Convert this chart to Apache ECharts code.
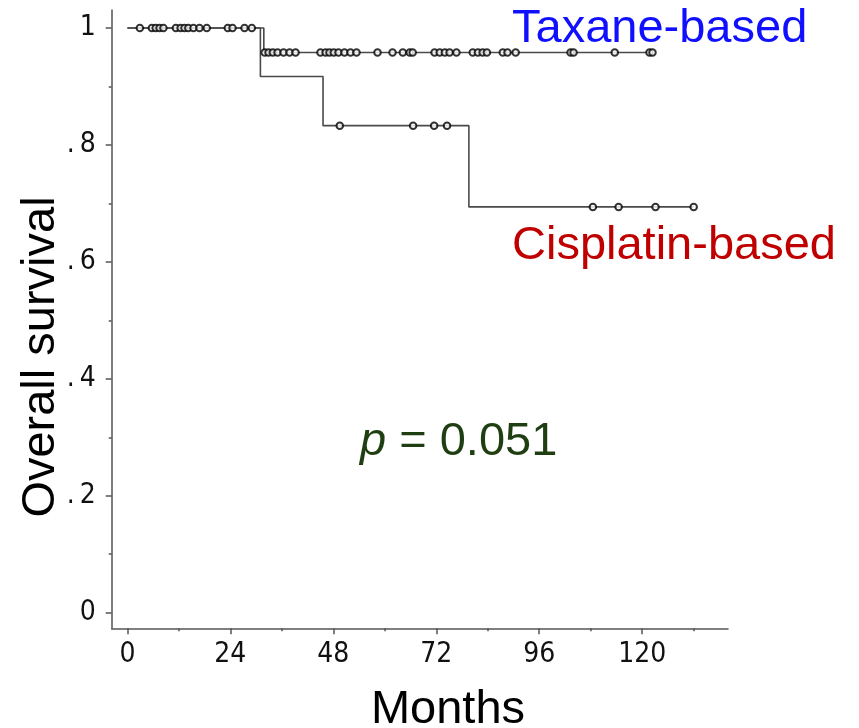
<!DOCTYPE html>
<html>
<head>
<meta charset="utf-8">
<title>Overall survival by regimen</title>
<script src="https://cdn.jsdelivr.net/npm/echarts@6/dist/echarts.min.js"></script>
<style>
  html, body { margin: 0; padding: 0; background: #fff; }
  #chart { width: 859px; height: 728px; }
</style>
</head>
<body>
<div id="chart"></div>
<script>
// Axis ticks
const xTickLabels = [0, 24, 48, 72, 96, 120];
const xMinorTicks = [12, 36, 60, 84, 108, 132];
const yTickLabels = [0, 0.2, 0.4, 0.6, 0.8, 1];
const yMinorTicks = [0.1, 0.3, 0.5, 0.7, 0.9];

// Taxane-based regimen: event times (months) and Kaplan-Meier survival after each event
const taxaneEventMonths = [0, 31.8];
const taxaneSurvival = [1, 0.958];
const taxaneCensoredMonths = [
  2.9, 5.7, 6.6, 7.5, 8.4, 11.3, 12.4, 13.3, 14.2, 15.4, 16.8, 18.5, 23.4, 24.5, 27.3, 29.0,
  32.0, 32.9, 33.9, 35.0, 36.4, 37.8, 39.2, 45.0, 46.2, 47.1, 48.1, 49.2, 50.6, 52.0, 53.4,
  58.3, 61.8, 64.2, 65.8, 66.5, 71.6, 72.8, 74.0, 75.1, 76.7, 80.5, 81.7, 82.8, 83.8,
  87.5, 88.6, 90.5, 103.3, 104.0, 113.6, 121.7, 122.4
];

// Cisplatin-based regimen
const cisplatinEventMonths = [0, 31.0, 45.6, 79.6];
const cisplatinSurvival = [1, 0.917, 0.833, 0.694];
const cisplatinCensoredMonths = [49.5, 66.6, 71.5, 74.5, 108.5, 114.5, 123.1, 132.0];

const pValueText = '0.051';

// Survival estimate at time t (right-continuous step function)
function survivalAt(events, surv, t) {
  let s = surv[0];
  for (let i = 0; i < events.length; i++) if (events[i] <= t) s = surv[i];
  return s;
}
function stepLine(events, surv, censored) {
  const pts = events.map((m, i) => [m, surv[i]]);
  const last = Math.max(...censored);
  pts.push([last, survivalAt(events, surv, last)]);
  return pts;
}
function censorPoints(events, surv, censored) {
  return censored.map(m => [m, survivalAt(events, surv, m)]);
}

const axisColor = '#555';
const tickFont = "'Liberation Sans Narrow', 'DejaVu Sans Condensed', 'Liberation Sans', sans-serif";
const bigFont = "'Liberation Sans', Arial, sans-serif";
const bigSize = 47;

const chart = echarts.init(document.getElementById('chart'), null, { renderer: 'canvas' });

const lineStyle = { color: '#4a4a4a', width: 1.6 };
const censorStyle = { color: '#fff', borderColor: '#000', borderWidth: 2 };

chart.setOption({
  animation: false,
  backgroundColor: '#fff',
  grid: { left: 111.7, right: 131, top: 10, bottom: 99.7 },
  xAxis: [
    {
      type: 'value', min: -3.66, max: 140, position: 'bottom',
      axisLine: { show: true, onZero: false, lineStyle: { color: axisColor, width: 1.5 } },
      axisTick: { show: true, inside: false, length: 6, customValues: xTickLabels, lineStyle: { color: axisColor, width: 1.5 } },
      axisLabel: { show: true, customValues: xTickLabels, margin: 12, color: '#111', fontSize: 28, fontFamily: tickFont },
      splitLine: { show: false }
    },
    {
      type: 'value', min: -3.66, max: 140, position: 'bottom',
      axisLine: { show: false, onZero: false },
      axisTick: { show: true, length: 3, customValues: xMinorTicks, lineStyle: { color: axisColor, width: 1.5 } },
      axisLabel: { show: false },
      splitLine: { show: false }
    }
  ],
  yAxis: [
    {
      type: 'value', min: -0.0267, max: 1.0308, position: 'left',
      axisLine: { show: true, onZero: false, lineStyle: { color: axisColor, width: 1.5 } },
      axisTick: { show: true, length: 6, customValues: yTickLabels, lineStyle: { color: axisColor, width: 1.5 } },
      axisLabel: {
        show: true, customValues: yTickLabels, margin: 16, color: '#111', fontSize: 28, fontFamily: tickFont,
        formatter: v => (v >= 0.999 ? '1' : v <= 0.001 ? '0' : '.\u2009' + Math.round(v * 10))
      },
      splitLine: { show: false }
    },
    {
      type: 'value', min: -0.0267, max: 1.0308, position: 'left',
      axisLine: { show: false, onZero: false },
      axisTick: { show: true, length: 3, customValues: yMinorTicks, lineStyle: { color: axisColor, width: 1.5 } },
      axisLabel: { show: false },
      splitLine: { show: false }
    }
  ],
  series: [
    {
      name: 'Cisplatin-based', type: 'line', step: 'end', symbol: 'none',
      data: stepLine(cisplatinEventMonths, cisplatinSurvival, cisplatinCensoredMonths),
      lineStyle, z: 2
    },
    {
      name: 'Taxane-based', type: 'line', step: 'end', symbol: 'none',
      data: stepLine(taxaneEventMonths, taxaneSurvival, taxaneCensoredMonths),
      lineStyle, z: 2
    },
    {
      name: 'Cisplatin-based censored', type: 'scatter', symbol: 'circle', symbolSize: 6.5,
      data: censorPoints(cisplatinEventMonths, cisplatinSurvival, cisplatinCensoredMonths),
      itemStyle: censorStyle, z: 3
    },
    {
      name: 'Taxane-based censored', type: 'scatter', symbol: 'circle', symbolSize: 6.5,
      data: censorPoints(taxaneEventMonths, taxaneSurvival, taxaneCensoredMonths),
      itemStyle: censorStyle, z: 3
    }
  ],
  graphic: [
    { type: 'text', x: 512, y: 29, z: 10,
      style: { text: 'Taxane-based', fill: '#1010ff', font: bigSize + 'px ' + bigFont, textAlign: 'left', textVerticalAlign: 'middle' } },
    { type: 'text', x: 512, y: 246, z: 10,
      style: { text: 'Cisplatin-based', fill: '#c00000', font: bigSize + 'px ' + bigFont, textAlign: 'left', textVerticalAlign: 'middle' } },
    { type: 'text', x: 360, y: 442, z: 10,
      style: {
        text: '{i|p} = ' + pValueText, fill: '#1f3f12', font: bigSize + 'px ' + bigFont,
        textAlign: 'left', textVerticalAlign: 'middle',
        rich: { i: { fontStyle: 'italic', fontSize: bigSize, fontFamily: bigFont, fill: '#1f3f12' } }
      } },
    { type: 'text', x: 448, y: 710, z: 10,
      style: { text: 'Months', fill: '#000', font: bigSize + 'px ' + bigFont, textAlign: 'center', textVerticalAlign: 'middle' } },
    { type: 'text', x: 41, y: 357, rotation: Math.PI / 2, z: 10,
      style: { text: 'Overall survival', fill: '#000', font: bigSize + 'px ' + bigFont, textAlign: 'center', textVerticalAlign: 'middle' } }
  ]
});
</script>
</body>
</html>
